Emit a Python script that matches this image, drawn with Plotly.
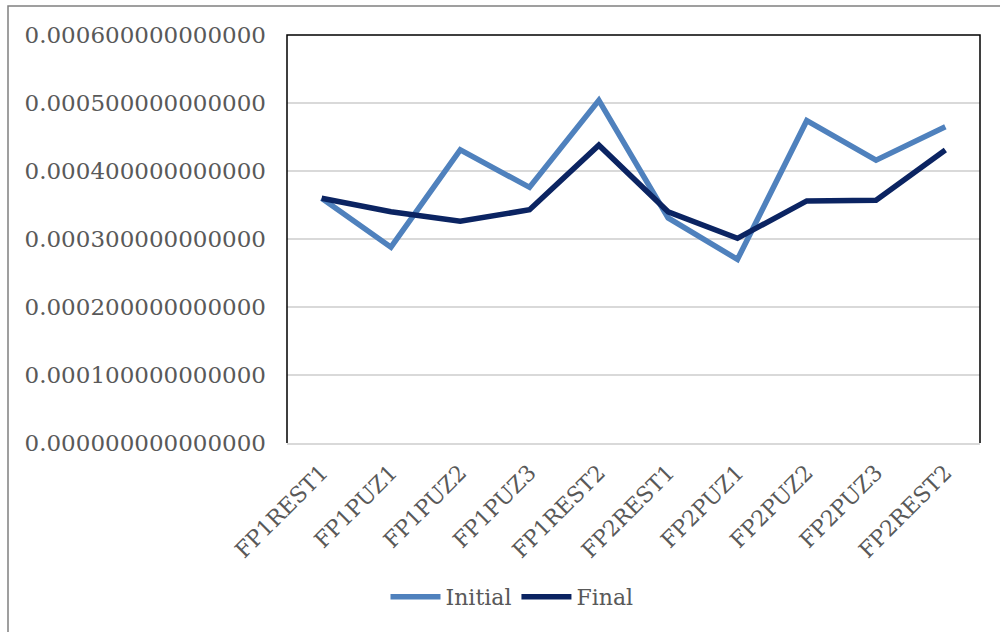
import plotly.graph_objects as go

categories = ["FP1REST1", "FP1PUZ1", "FP1PUZ2", "FP1PUZ3", "FP1REST2",
              "FP2REST1", "FP2PUZ1", "FP2PUZ2", "FP2PUZ3", "FP2REST2"]
initial = [0.000360, 0.000288, 0.000431, 0.000376, 0.000504,
           0.000331, 0.000270, 0.000474, 0.000416, 0.000465]
final = [0.000360, 0.000340, 0.000326, 0.000343, 0.000438,
         0.000340, 0.000301, 0.000356, 0.000357, 0.000431]

FONT = "DejaVu Serif"
GREY = "#595959"

fig = go.Figure()
fig.add_trace(go.Scatter(x=categories, y=initial, name="Initial", mode="lines",
                         line=dict(color="#4F81BD", width=5.5)))
fig.add_trace(go.Scatter(x=categories, y=final, name="Final", mode="lines",
                         line=dict(color="#0B2462", width=5.5)))

W, H = 1000, 632
ml, mr, mt, mb = 287, 20, 35, 189
pw, ph = W - ml - mr, H - mt - mb

def px(x):
    return (x - ml) / pw

def py(y):
    return (H - mb - y) / ph

fig.update_layout(
    width=W, height=H,
    margin=dict(l=ml, r=mr, t=mt, b=mb, pad=0),
    paper_bgcolor="white", plot_bgcolor="white",
    font=dict(family=FONT, size=22, color=GREY),
    showlegend=True,
    legend=dict(orientation="h", x=px(512), xanchor="center",
                y=py(597), yanchor="middle", font=dict(size=22, color=GREY),
                itemwidth=50),
    xaxis=dict(type="category", range=[-0.5, len(categories) - 0.5],
               tickangle=-45, showgrid=False, showline=True, linecolor="#D9D9D9",
               linewidth=2, ticks="", ticklabelstandoff=6,
               tickfont=dict(size=22, color=GREY)),
    yaxis=dict(range=[0, 0.0006], dtick=0.0001, tickformat=".15f",
               showgrid=True, gridcolor="#D9D9D9", gridwidth=2,
               zeroline=False, showline=False, ticks="", ticklabelstandoff=20,
               tickfont=dict(size=23, color=GREY)),
    shapes=[
        # plot-area frame: left, top, right
        dict(type="path", xref="paper", yref="paper",
             path="M 0 0 L 0 1 L 1 1 L 1 0",
             line=dict(color="black", width=1.5)),
        # outer chart border
        dict(type="rect", xref="paper", yref="paper",
             x0=px(8), x1=px(1010), y0=py(650), y1=py(6),
             line=dict(color="#808080", width=1.5), layer="below"),
    ],
)

fig.write_html("out.html")
